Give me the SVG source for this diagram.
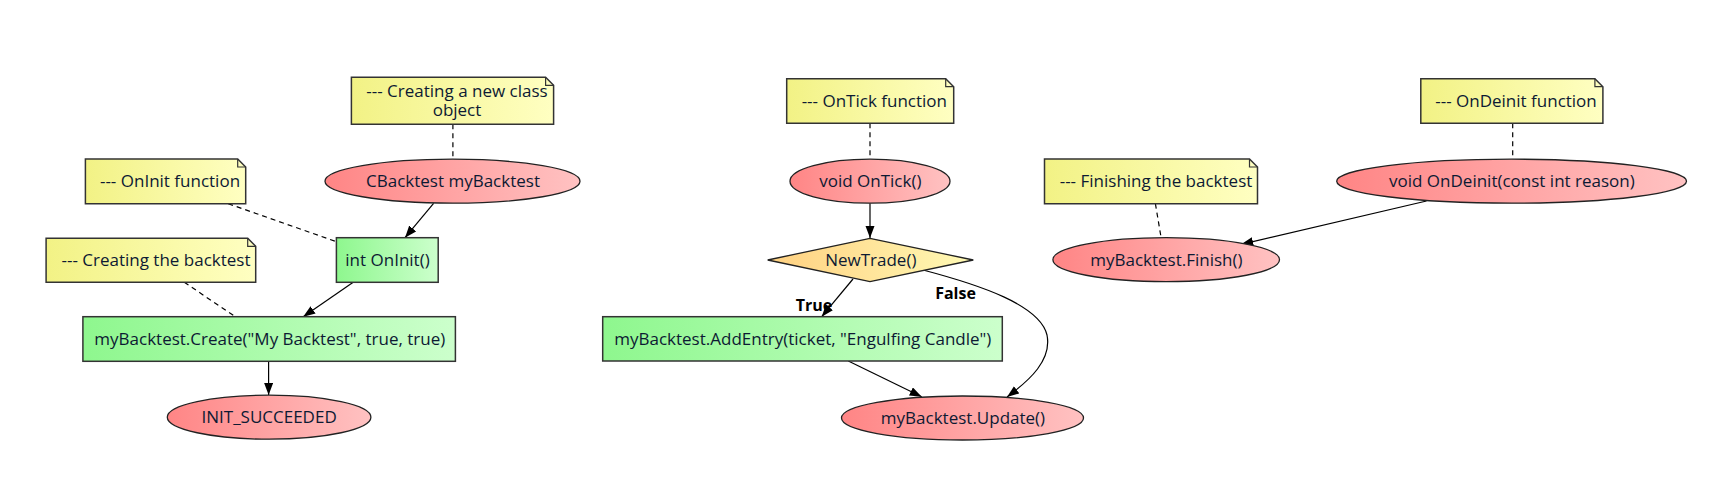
<svg xmlns="http://www.w3.org/2000/svg" width="1723" height="483" viewBox="0 0 1723 483">
<defs>
<linearGradient id="gRed" x1="0" y1="0" x2="1" y2="0"><stop offset="0" stop-color="#ff8585"/><stop offset="1" stop-color="#ffc2c2"/></linearGradient>
<linearGradient id="gGreen" x1="0" y1="0" x2="1" y2="0"><stop offset="0" stop-color="#8ef78e"/><stop offset="1" stop-color="#ccffcc"/></linearGradient>
<linearGradient id="gNote" x1="0" y1="0" x2="1" y2="0"><stop offset="0" stop-color="#f2f285"/><stop offset="1" stop-color="#ffffc2"/></linearGradient>
<linearGradient id="gDia" x1="0" y1="0" x2="1" y2="0"><stop offset="0" stop-color="#ffd080"/><stop offset="1" stop-color="#fffab5"/></linearGradient>
<marker id="arr" markerUnits="userSpaceOnUse" markerWidth="13" markerHeight="10" refX="12" refY="4.5" orient="auto"><path d="M0,0 L12,4.5 L0,9 z" fill="#000"/></marker>
</defs>
<style>
text{font-family:"Open Sans","Noto Sans","Liberation Sans",sans-serif;font-size:17px;fill:#0d1a33;text-anchor:middle}
.lbl{font-weight:bold;fill:#000;font-size:16px}
.el{fill:url(#gRed);stroke:#222;stroke-width:1.3}
.bx{fill:url(#gGreen);stroke:#333;stroke-width:1.5}
.nt{fill:url(#gNote);stroke:#333;stroke-width:1.5}
.dm{fill:url(#gDia);stroke:#222;stroke-width:1.3}
.fold{fill:none;stroke:#333;stroke-width:1.2}
.c{fill:none;stroke:#000;stroke-width:1.2;marker-end:url(#arr)}
.d{fill:none;stroke:#000;stroke-width:1.2;stroke-dasharray:5,4}
</style>
<rect width="1723" height="483" fill="#fff"/>

<g id="connectors">
<path class="d" d="M452.9,124.3 L452.9,159"/>
<path class="d" d="M228.2,203.7 L336.4,241.7"/>
<path class="d" d="M184.3,282.3 L235.4,316.7"/>
<path class="d" d="M870,123.3 L870,159"/>
<path class="d" d="M1512.7,123.3 L1512.7,159"/>
<path class="d" d="M1155.4,203.7 L1161.1,237.7"/>
<path class="c" d="M433.6,203.3 L405,237.7"/>
<path class="c" d="M353.2,282.3 L303.2,316.7"/>
<path class="c" d="M268.6,361.3 L268.6,395"/>
<path class="c" d="M870,203.3 L870,238"/>
<path class="c" d="M853,279 L821.7,316.7"/>
<path class="c" d="M923,270 C980,285 1040,305 1047,335 C1052,360 1030,380 1007,397"/>
<path class="c" d="M848.3,361 L921.7,396.7"/>
<path class="c" d="M1426.5,201 L1241.2,244.3"/>
<text class="lbl" x="814" y="311">True</text>
<text class="lbl" x="955.5" y="298.5">False</text>
</g>

<g id="note-class">
<path class="nt" d="M351.4,77.3 L545.6,77.3 L553.6,85.3 L553.6,124.3 L351.4,124.3 z"/>
<path class="fold" d="M545.6,77.3 L545.6,85.3 L553.6,85.3"/>
<text x="457" y="96.6">--- Creating a new class<tspan x="457" dy="19.8">object</tspan></text>
</g>
<g id="cbacktest">
<ellipse class="el" cx="452.5" cy="181.2" rx="127.5" ry="22"/>
<text x="453" y="187">CBacktest myBacktest</text>
</g>
<g id="note-oninit">
<path class="nt" d="M85.4,159 L237.7,159 L245.7,167 L245.7,203.7 L85.4,203.7 z"/>
<path class="fold" d="M237.7,159 L237.7,167 L245.7,167"/>
<text x="170" y="187">--- OnInit function</text>
</g>
<g id="oninit">
<rect class="bx" x="336.4" y="237.7" width="101.8" height="44.6"/>
<text x="387.5" y="266">int OnInit()</text>
</g>
<g id="note-create">
<path class="nt" d="M46.1,238.3 L247.7,238.3 L255.7,246.3 L255.7,282.3 L46.1,282.3 z"/>
<path class="fold" d="M247.7,238.3 L247.7,246.3 L255.7,246.3"/>
<text x="156" y="266">--- Creating the backtest</text>
</g>
<g id="create">
<rect class="bx" x="82.9" y="316.7" width="372.5" height="44.6"/>
<text x="269.8" y="345">myBacktest.Create("My Backtest", true, true)</text>
</g>
<g id="init-succeeded">
<ellipse class="el" cx="269.1" cy="417.2" rx="101.8" ry="22"/>
<text x="269.1" y="423">INIT_SUCCEEDED</text>
</g>

<g id="note-ontick">
<path class="nt" d="M786.7,78.7 L945.7,78.7 L953.7,86.7 L953.7,123.3 L786.7,123.3 z"/>
<path class="fold" d="M945.7,78.7 L945.7,86.7 L953.7,86.7"/>
<text x="874.3" y="106.5">--- OnTick function</text>
</g>
<g id="ontick">
<ellipse class="el" cx="870" cy="181.2" rx="80" ry="22"/>
<text x="870.3" y="187">void OnTick()</text>
</g>
<g id="newtrade">
<path class="dm" d="M767.7,260 L870,238.3 L973.3,260 L870,281.7 z"/>
<text x="870.8" y="266">NewTrade()</text>
</g>
<g id="addentry">
<rect class="bx" x="602.7" y="316.7" width="399.6" height="44.3"/>
<text x="802.8" y="345">myBacktest.AddEntry(ticket, "Engulfing Candle")</text>
</g>
<g id="update">
<ellipse class="el" cx="962.5" cy="418" rx="121" ry="22"/>
<text x="963" y="424">myBacktest.Update()</text>
</g>

<g id="note-ondeinit">
<path class="nt" d="M1420.8,78.7 L1594.9,78.7 L1602.9,86.7 L1602.9,123.3 L1420.8,123.3 z"/>
<path class="fold" d="M1594.9,78.7 L1594.9,86.7 L1602.9,86.7"/>
<text x="1516" y="106.5">--- OnDeinit function</text>
</g>
<g id="ondeinit">
<ellipse class="el" cx="1511.6" cy="181.2" rx="174.9" ry="22"/>
<text x="1511.9" y="187">void OnDeinit(const int reason)</text>
</g>
<g id="note-finish">
<path class="nt" d="M1044.5,159 L1249.5,159 L1257.5,167 L1257.5,203.7 L1044.5,203.7 z"/>
<path class="fold" d="M1249.5,159 L1249.5,167 L1257.5,167"/>
<text x="1156" y="187">--- Finishing the backtest</text>
</g>
<g id="finish">
<ellipse class="el" cx="1166.2" cy="259.7" rx="113.3" ry="22"/>
<text x="1166.4" y="265.5">myBacktest.Finish()</text>
</g>
</svg>
